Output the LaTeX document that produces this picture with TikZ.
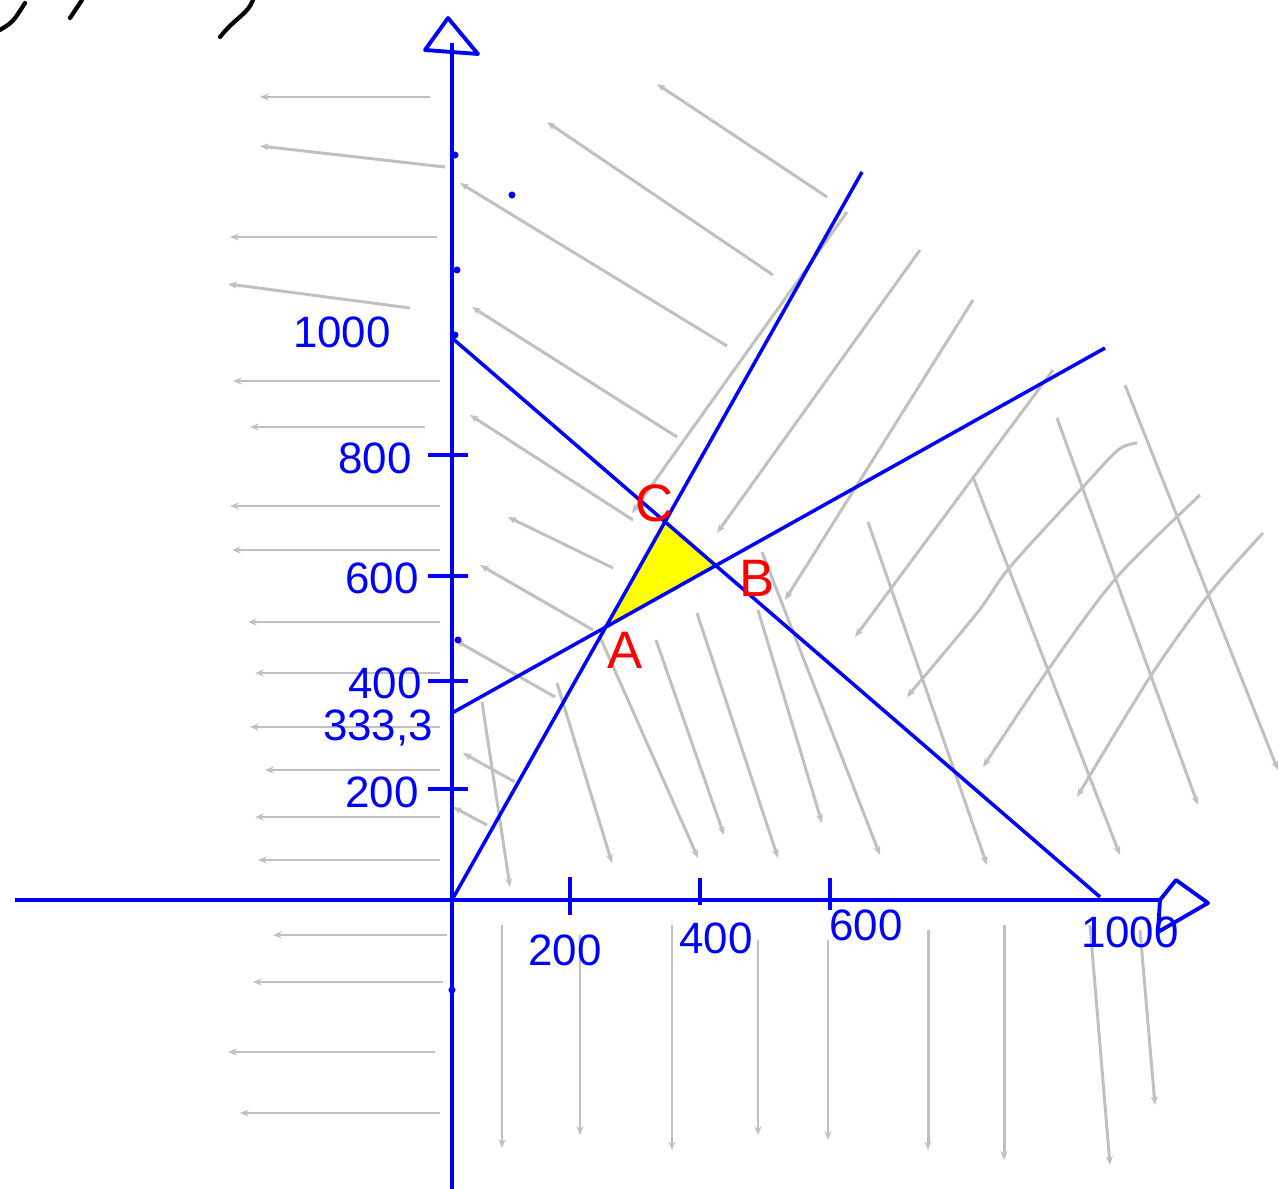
\documentclass[tikz,border=0pt]{standalone}
\usepackage{fontspec}
\setmainfont{Liberation Sans}
\usetikzlibrary{arrows.meta}
\definecolor{InkBlue}{RGB}{0,0,255}
\definecolor{InkRed}{RGB}{255,0,0}
\definecolor{HatchGray}{RGB}{192,192,192}
\definecolor{FeasYellow}{RGB}{255,255,0}
\tikzset{
  >=Stealth,
  axisline/.style={draw=InkBlue,line width=2.2pt},
  constraint/.style={draw=InkBlue,line width=2pt},
  tickmark/.style={draw=InkBlue,line width=1.8pt},
  hatch/.style={-{Stealth[length=5pt,width=4pt]},draw=HatchGray,line width=1.7pt},
  ink/.style={draw=black,line width=2.4pt,line cap=round,line join=round},
  numlabel/.style={text=InkBlue,font=\fontsize{25}{25}\selectfont,inner sep=0pt},
  ptlabel/.style={text=InkRed,font=\fontsize{30}{30}\selectfont,inner sep=0pt},
  dotmark/.style={fill=InkBlue,circle,inner sep=0pt,minimum size=4pt}
}
\begin{document}
\begin{tikzpicture}[x=0.02cm,y=-0.02cm]
  \useasboundingbox (0,0) rectangle (1279,1189);
  % hatching
  \foreach \xa/\ya/\xb/\yb in {430/97/260/97,445/167/260/146,437/237/230/237,410/308/228/284,
      440/381/233/381,425/427/250/427,440/506/230/506,440/550/232/550,440/622/248/622,
      440/673/255/673,440/727/250/727,440/770/265/770,440/817/255/817,440/860/258/860,
      447/935/273/935,443/982/253/982,435/1052/228/1052,440/1113/240/1113}
    \draw[hatch] (\xa,\ya) -- (\xb,\yb);
  \foreach \xa/\ya/\xb/\yb in {827/197/657/84,773/275/547/122,727/346/460/183,677/437/472/307,
      633/520/470/415,613/568/508/517,593/630/480/565,555/697/455/640,515/782/463/753,487/825/453/807}
    \draw[hatch] (\xa,\ya) -- (\xb,\yb);
  \foreach \xa/\ya/\xb/\yb in {482/702/510/887,557/683/612/863,600/637/698/858,656/640/724/835,
      697/613/778/858,758/610/822/823,762/552/880/855,868/522/987/865,973/477/1120/855,
      1057/418/1198/805,1125/385/1278/770}
    \draw[hatch] (\xa,\ya) -- (\xb,\yb);
  \foreach \xa/\ya/\xb/\yb in {502/925/502/1148,580/935/580/1135,672/925/672/1150,758/940/758/1135,
      828/940/828/1140,928/930/928/1150,1004/925/1004/1160,1090/925/1110/1165,1140/930/1155/1105}
    \draw[hatch] (\xa,\ya) -- (\xb,\yb);
  \foreach \xa/\ya/\xb/\yb in {847/212/632/513,920/250/717/533,973/300/785/600,1053/370/855/637}
    \draw[hatch] (\xa,\ya) -- (\xb,\yb);
  \draw[hatch] plot[smooth] coordinates {(1137,443) (1118,450) (1083,487) (1010,567) (977,613) (907,697)};
  \draw[hatch] plot[smooth] coordinates {(1200,495) (1117,577) (1050,667) (983,767)};
  \draw[hatch] plot[smooth] coordinates {(1263,533) (1210,593) (1150,677) (1077,797)};
  % constraints
  \coordinate (O) at (452,900);
  \coordinate (r1a) at (452,338);
  \coordinate (r1b) at (1100,897);
  \coordinate (r2b) at (862,172);
  \coordinate (r3a) at (452,713);
  \coordinate (r3b) at (1105,348);
  \coordinate (A) at (intersection of O--r2b and r3a--r3b);
  \coordinate (B) at (intersection of r1a--r1b and r3a--r3b);
  \coordinate (C) at (intersection of r1a--r1b and O--r2b);
  \fill[FeasYellow] (A) -- (B) -- (C) -- cycle;
  \draw[constraint] (r1a) -- (r1b);
  \draw[constraint] (O) -- (r2b);
  \draw[constraint] (r3a) -- (r3b);
  % axes
  \coordinate (ybot) at (452,1189);
  \coordinate (ytop) at (452,43);
  \coordinate (xleft) at (15,900);
  \coordinate (xright) at (1160,900);
  \draw[axisline] (ybot) -- (ytop);
  \draw[axisline,line join=round] (448,18) -- (425,50) -- (478,54) -- cycle;
  \draw[axisline] (xleft) -- (xright);
  \draw[axisline,line join=round] (1160,900) -- (1176,880) -- (1208,903) -- (1158,932) -- cycle;
  \foreach \yy in {455,576,681,789}
    \draw[tickmark] (428,\yy) -- (468,\yy);
  \draw[tickmark] (570,877) -- (570,915);
  \draw[tickmark] (700,878) -- (700,905);
  \draw[tickmark] (830,878) -- (830,910);
  \foreach \xx/\yy in {455/155,457/270,458/640,452/990,512/195,455/335}
    \node[dotmark] at (\xx,\yy) {};
  % labels
  \node[numlabel] (y1000) at (342,332) {1000};
  \node[numlabel] (y800) at (375,458) {800};
  \node[numlabel] (y600) at (382,578) {600};
  \node[numlabel] (y400) at (385,683) {400};
  \node[numlabel] (y333) at (378,728) {333,3};
  \node[numlabel] (y200) at (382,792) {200};
  \node[numlabel] (x200) at (565,950) {200};
  \node[numlabel] (x400) at (716,938) {400};
  \node[numlabel] (x600) at (866,925) {600};
  \node[numlabel] (x1000) at (1130,932) {1000};
  \node[ptlabel] (lblC) at (655,503) {C};
  \node[ptlabel] (lblB) at (757,578) {B};
  \node[ptlabel] (lblA) at (625,650) {A};
  % scribbles
  \draw[ink] (0,30) .. controls (13,22) .. (25,3);
  \draw[ink] (70,18) -- (82,0);
  \draw[ink] (220,37) .. controls (235,18) and (248,14) .. (253,0);
\end{tikzpicture}
\end{document}
